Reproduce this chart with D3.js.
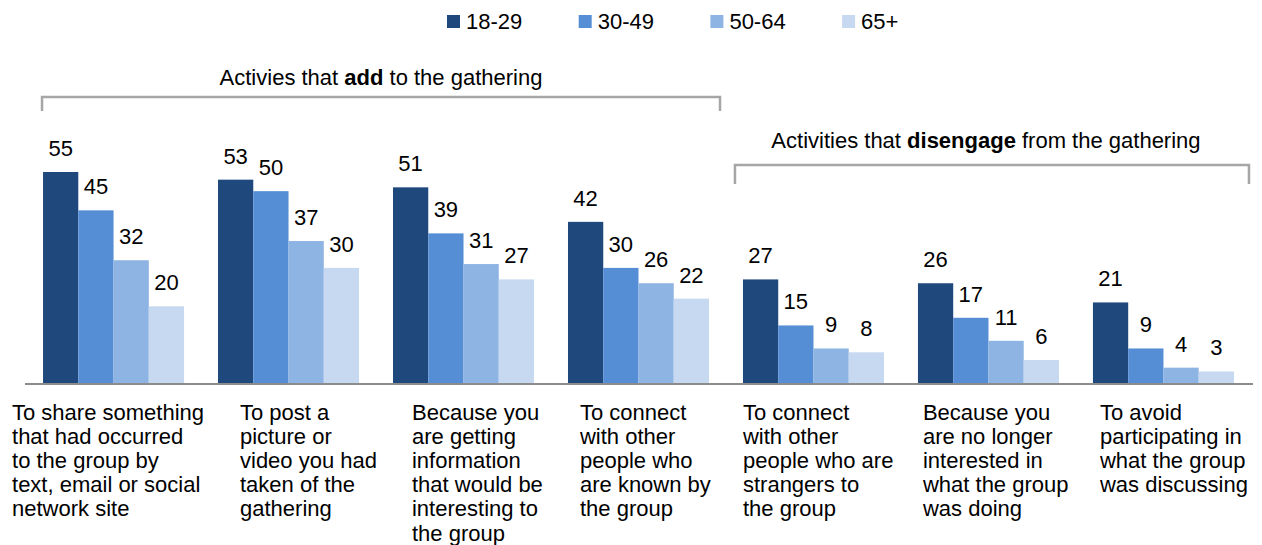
<!DOCTYPE html>
<html>
<head>
<meta charset="utf-8">
<script src="https://cdn.jsdelivr.net/npm/d3@7"></script>
<style>
  html, body { margin: 0; padding: 0; background: #fff; }
  svg { display: block; font-family: "Liberation Sans", Arial, sans-serif; }
</style>
</head>
<body>
<svg id="chart" width="1262" height="545"></svg>
<script>
// Age groups and their colours
const series = ["18-29", "30-49", "50-64", "65+"];
const colors = ["#1f497d", "#558ed5", "#8eb4e3", "#c6d9f1"];

// Reasons (one group of bars each), wrapped into lines
const categories = [
  ["To share something", "that had occurred", "to the group by", "text, email or social", "network site"],
  ["To post a", "picture or", "video you had", "taken of the", "gathering"],
  ["Because you", "are getting", "information", "that would be", "interesting to", "the group"],
  ["To connect", "with other", "people who", "are known by", "the group"],
  ["To connect", "with other", "people who are", "strangers to", "the group"],
  ["Because you", "are no longer", "interested in", "what the group", "was doing"],
  ["To avoid", "participating in", "what the group", "was discussing"]
];

// Percent values per age group, one entry per reason
const v18_29 = [55, 53, 51, 42, 27, 26, 21];
const v30_49 = [45, 50, 39, 30, 15, 17, 9];
const v50_64 = [32, 37, 31, 26, 9, 11, 4];
const v65    = [20, 30, 27, 22, 8, 6, 3];
const seriesValues = [v18_29, v30_49, v50_64, v65];

// Bracketed sections: first and last reason index covered
const sections = [
  { pre: "Activies that ", bold: "add", post: " to the gathering", from: 0, to: 3 },
  { pre: "Activities that ", bold: "disengage", post: " from the gathering", from: 4, to: 6 }
];

const svg = d3.select("#chart");
const ids = categories.map((_, i) => i);

const x = d3.scaleBand().domain(ids).range([25, 1252])
  .paddingInner(0.194).paddingOuter(0.103);
const xs = d3.scaleBand().domain(series).range([0, x.bandwidth()]).padding(0);
const y = d3.scaleLinear().domain([0, 60]).range([383, 152.8]);

// Bars
const groups = svg.append("g").selectAll("g").data(ids).join("g")
  .attr("transform", i => `translate(${x(i)},0)`);

groups.selectAll("rect")
  .data(i => series.map((s, k) => ({ s, k, v: seriesValues[k][i] })))
  .join("rect")
  .attr("x", d => xs(d.s))
  .attr("width", xs.bandwidth())
  .attr("y", d => y(d.v))
  .attr("height", d => y(0) - y(d.v))
  .attr("fill", d => colors[d.k]);

// Value labels
groups.selectAll("text.val")
  .data(i => series.map((s, k) => ({ s, k, v: seriesValues[k][i] })))
  .join("text")
  .attr("class", "val")
  .attr("x", d => xs(d.s) + xs.bandwidth() / 2)
  .attr("y", d => y(d.v) - 16)
  .attr("text-anchor", "middle")
  .attr("font-size", 22)
  .attr("fill", "#000")
  .text(d => d.v);

// Baseline
svg.append("line")
  .attr("x1", 25).attr("x2", 1253)
  .attr("y1", y(0) + 1).attr("y2", y(0) + 1)
  .attr("stroke", "#8c8c8c").attr("stroke-width", 2);

// Category labels, left-aligned blocks under each group
const labelShift = [-31, 22, 19, 12, 0, 5, 7];
svg.append("g").selectAll("text").data(ids).join("text")
  .attr("font-size", 22)
  .attr("fill", "#000")
  .each(function (i) {
    const t = d3.select(this);
    categories[i].forEach((line, j) => {
      t.append("tspan")
        .attr("x", x(i) + labelShift[i])
        .attr("y", 420 + j * 24.1)
        .text(line);
    });
  });

// Section brackets and titles
const bracketY = [97, 165];
const bracketDrop = [14, 19];
const bracketPadL = [1, 8];
const bracketPadR = [11, 15];
const titleY = [85, 148];
const titleShift = [0, -6];
sections.forEach((sec, n) => {
  const x0 = x(sec.from) - bracketPadL[n];
  const x1 = x(sec.to) + x.bandwidth() + bracketPadR[n];
  const by = bracketY[n];
  svg.append("path")
    .attr("d", `M${x0},${by + bracketDrop[n]}V${by}H${x1}V${by + bracketDrop[n]}`)
    .attr("fill", "none")
    .attr("stroke", "#a6a6a6")
    .attr("stroke-width", 2.5);
  const t = svg.append("text")
    .attr("x", (x0 + x1) / 2 + titleShift[n])
    .attr("y", titleY[n])
    .attr("text-anchor", "middle")
    .attr("font-size", 22)
    .attr("fill", "#000");
  t.append("tspan").text(sec.pre);
  t.append("tspan").attr("font-weight", "bold").text(sec.bold);
  t.append("tspan").text(sec.post);
});

// Legend
const legend = svg.append("g").selectAll("g").data(series).join("g")
  .attr("transform", (d, k) => `translate(${447 + k * 131.7},0)`);
legend.append("rect")
  .attr("x", 0).attr("y", 15).attr("width", 13).attr("height", 13)
  .attr("fill", (d, k) => colors[k]);
legend.append("text")
  .attr("x", 19).attr("y", 28.5)
  .attr("font-size", 22)
  .attr("fill", "#000")
  .text(d => d);
</script>
</body>
</html>
